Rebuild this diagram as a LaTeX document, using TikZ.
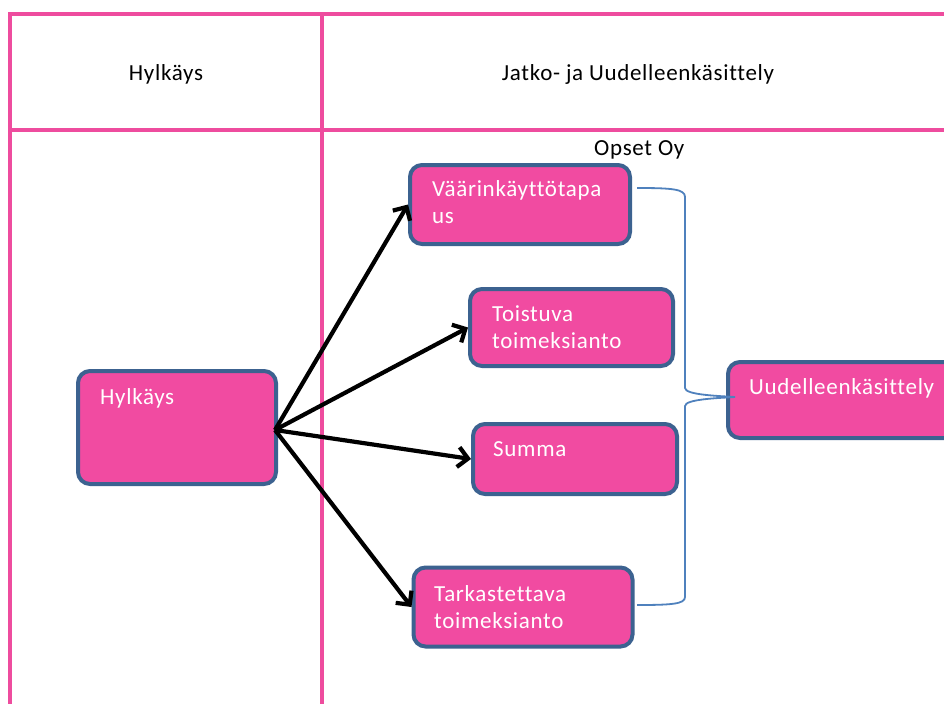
\documentclass[tikz,border=0pt]{standalone}
\usepackage{fontspec}
\setmainfont{Carlito}[LetterSpace=3, Ligatures={NoCommon, NoRare}]
\usetikzlibrary{arrows.meta}

\definecolor{lanepink}{RGB}{238,76,158}
\definecolor{boxpink}{RGB}{241,75,161}
\definecolor{boxblue}{RGB}{60,98,144}
\definecolor{braceblue}{RGB}{79,129,189}

\tikzset{
  lane/.style={draw=lanepink, line width=4pt},
  stepbox/.style={draw=boxblue, line width=4pt, fill=boxpink,
    rounded corners=12pt, inner sep=0pt},
  boxtext/.style={anchor=base west, text=white, inner sep=0pt,
    font=\fontsize{23}{27}\selectfont},
  headtext/.style={anchor=base, text=black, inner sep=0pt,
    font=\fontsize{23}{27}\selectfont},
  flow/.style={draw=black, line width=4.2pt,
    -{Straight Barb[length=10pt, width=20pt, line width=4.2pt]}},
  brace/.style={draw=braceblue, line width=1.8pt}
}

\begin{document}
\begin{tikzpicture}[x=1pt, y=-1pt]
  \clip (0,0) rectangle (944,704);
  \fill[white] (0,0) rectangle (944,704);

  % swimlane grid
  \draw[lane] (8,14) -- (944,14);
  \draw[lane] (8,130) -- (944,130);
  \draw[lane] (10,12) -- (10,704);
  \draw[lane] (322,12) -- (322,704);

  % lane headers
  \node[headtext] (h1) at (166,80) {Hylkäys};
  \node[headtext] (h2) at (638,80) {Jatko- ja Uudelleenkäsittely};
  \node[anchor=base west, inner sep=0pt, font=\fontsize{23}{27}\selectfont]
    (org) at (594,155) {Opset Oy};

  % process boxes
  \node[stepbox, minimum width=198pt, minimum height=113pt] (H) at (177,427.5) {};
  \node[stepbox, minimum width=220pt, minimum height=79pt] (V) at (520,204.5) {};
  \node[stepbox, minimum width=203pt, minimum height=77pt] (T) at (571.5,327.5) {};
  \node[stepbox, minimum width=204pt, minimum height=70pt] (S) at (575,459) {};
  \node[stepbox, minimum width=219pt, minimum height=79pt] (K) at (523,607) {};
  \node[stepbox, minimum width=240pt, minimum height=76pt] (U) at (848,400) {};

  % box labels
  \node[boxtext] (Ht) at (100,404) {Hylkäys};
  \node[boxtext] (Vt) at (432,196) {\parbox[t]{200pt}{Väärinkäyttötapa\\us}};
  \node[boxtext] (Tt) at (492,321) {\parbox[t]{180pt}{Toistuva\\toimeksianto}};
  \node[boxtext] (St) at (493,456) {Summa};
  \node[boxtext] (Kt) at (434,601) {\parbox[t]{200pt}{Tarkastettava\\toimeksianto}};
  \node[boxtext] (Ut) at (749,394) {Uudelleenkäsittely};

  % flow arrows
  \coordinate (src) at (275,430);
  \draw[flow] (src) -- (V.west);
  \draw[flow] (src) -- (T.west);
  \draw[flow] (src) -- (S.west);
  \draw[flow] (src) -- (K.west);

  % grouping brace
  \coordinate (b1) at (637,188);
  \coordinate (b2) at (637,605);
  \coordinate (tip) at (735,397);
  \draw[brace] (b1) .. controls (672,188) and (685,189) .. (685,197)
    -- (685,388) .. controls (685,395) and (720,396) .. (tip)
    .. controls (720,398) and (685,399) .. (685,406)
    -- (685,597) .. controls (685,604) and (672,605) .. (b2);
\end{tikzpicture}
\end{document}
